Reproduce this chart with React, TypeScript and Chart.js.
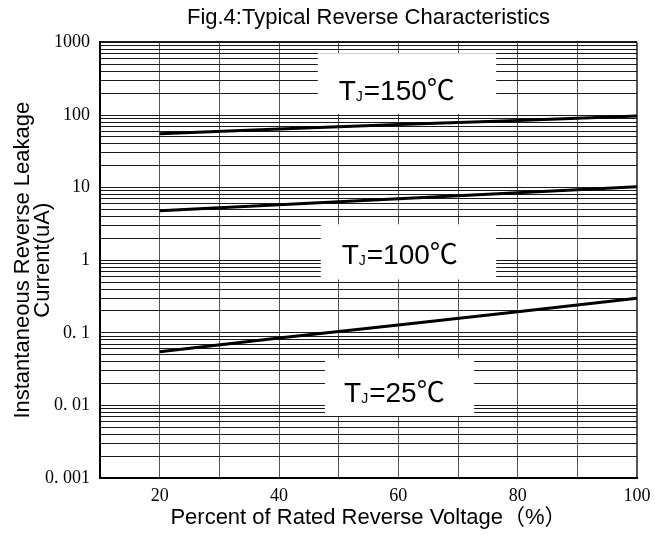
import React, { useEffect, useRef } from 'react';
import { Chart, registerables } from 'chart.js';

Chart.register(...registerables);

// ---- data ----
const voltagePct = [20, 40, 60, 80, 100];
const leakage150 = [55, 64, 74, 84, 97];
const leakage100 = [4.8, 5.8, 7.0, 8.5, 10.3];
const leakage25 = [0.055, 0.085, 0.128, 0.195, 0.3];
const tempLabels = ['150', '100', '25'];
const xTickLabels = ['20', '40', '60', '80', '100'];
const yDecades = [0.001, 0.01, 0.1, 1, 10, 100, 1000];
const yDecadeLabels = ['0. 001', '0. 01', '0. 1', '1', '10', '100', '1000'];
const yMinorSteps = [2, 3, 4, 5, 6, 7, 8, 9];
const titleText = 'Fig.4:Typical Reverse Characteristics';
const xTitle = 'Percent of Rated Reverse Voltage（%）';
const yTitle = ['Instantaneous Reverse Leakage', 'Current(uA)'];

const SANS = '"Liberation Sans", Arial, "Noto Sans CJK SC", sans-serif';
const SERIF = '"Liberation Serif", "Times New Roman", serif';

// white label boxes, placed in data coordinates
const boxes = [
  { x1: 46.5, x2: 76.4, y1: 710, y2: 104, tx: 50, ty: 161, label: tempLabels[0] },
  { x1: 47.0, x2: 76.4, y1: 3.12, y2: 0.543, tx: 50.5, ty: 0.895, label: tempLabels[1] },
  { x1: 47.7, x2: 72.7, y1: 0.045, y2: 0.00716, tx: 50.9, ty: 0.01107, label: tempLabels[2] },
];

const tempBoxPlugin = {
  id: 'tempBoxes',
  beforeDatasetsDraw(chart: any) {
    const { ctx, scales } = chart;
    const xs = scales.x;
    const ys = scales.y;
    ctx.save();
    for (const b of boxes) {
      const l = xs.getPixelForValue(b.x1);
      const r = xs.getPixelForValue(b.x2);
      const t = ys.getPixelForValue(b.y1);
      const btm = ys.getPixelForValue(b.y2);
      ctx.fillStyle = '#fff';
      ctx.fillRect(l, t, r - l, btm - t);
      let px = xs.getPixelForValue(b.tx);
      const base = ys.getPixelForValue(b.ty);
      ctx.fillStyle = '#000';
      ctx.textBaseline = 'alphabetic';
      ctx.textAlign = 'left';
      ctx.font = `28px ${SANS}`;
      ctx.fillText('T', px, base);
      px += ctx.measureText('T').width;
      ctx.font = `14px ${SANS}`;
      ctx.fillText('J', px, base + 1);
      px += ctx.measureText('J').width + 1;
      ctx.font = `28px ${SANS}`;
      ctx.fillText(`=${b.label}℃`, px, base);
    }
    ctx.restore();
  },
};

function decadeLabel(v: number): string {
  for (let i = 0; i < yDecades.length; i++) {
    if (Math.abs(v - yDecades[i]) / yDecades[i] < 1e-6) return yDecadeLabels[i];
  }
  return '';
}

export default function App() {
  const ref = useRef<HTMLCanvasElement | null>(null);

  useEffect(() => {
    document.body.style.margin = '0';
    const canvas = ref.current;
    if (!canvas) return;
    const mk = (vals: number[]) => voltagePct.map((x, i) => ({ x, y: vals[i] }));
    const lineStyle = {
      borderColor: '#000',
      backgroundColor: '#000',
      borderWidth: 3,
      pointRadius: 0,
      fill: false,
      tension: 0,
    };
    const chart = new Chart(canvas, {
      type: 'line',
      data: {
        datasets: [
          { label: 'TJ=150℃', data: mk(leakage150), ...lineStyle },
          { label: 'TJ=100℃', data: mk(leakage100), ...lineStyle },
          { label: 'TJ=25℃', data: mk(leakage25), ...lineStyle },
        ],
      },
      plugins: [tempBoxPlugin],
      options: {
        animation: false,
        responsive: false,
        layout: { padding: { left: 0, right: 33, top: 0, bottom: 0 } },
        plugins: {
          legend: { display: false },
          tooltip: { enabled: false },
          title: {
            display: true,
            text: titleText,
            fullSize: false,
            color: '#000',
            font: { family: SANS, size: 22, weight: 'normal' },
            padding: { top: 5, bottom: 11 },
          },
        },
        scales: {
          x: {
            type: 'linear',
            min: 10,
            max: 100,
            afterFit: (s: any) => { s.height = 57; },
            border: { color: '#000', width: 2 },
            grid: {
              color: '#555',
              drawTicks: false,
              lineWidth: (c: any) => (c.tick && c.tick.value === 100 ? 2 : 1),
            },
            ticks: {
              stepSize: 10,
              autoSkip: false,
              maxRotation: 0,
              padding: 7,
              color: '#000',
              font: { family: SERIF, size: 18 },
              callback: (v: any) => (xTickLabels.includes(String(v)) ? String(v) : ''),
            },
            title: {
              display: true,
              text: xTitle,
              color: '#000',
              font: { family: SANS, size: 22 },
              padding: { top: 0, bottom: 4 },
            },
          },
          y: {
            type: 'logarithmic',
            min: 0.001,
            max: 1000,
            afterFit: (s: any) => { s.width = 100; },
            afterBuildTicks: (s: any) => {
              const vals: number[] = [];
              yDecades.forEach((d, i) => {
                vals.push(d);
                if (i < yDecades.length - 1) yMinorSteps.forEach((m) => vals.push(d * m));
              });
              s.ticks = vals.map((v) => ({ value: v, major: false }));
            },
            border: { color: '#000', width: 2 },
            grid: {
              color: '#1a1a1a',
              drawTicks: false,
              lineWidth: (c: any) => (c.tick && Math.abs(c.tick.value - 1000) < 1e-6 ? 2 : 1),
            },
            ticks: {
              autoSkip: false,
              padding: 10,
              color: '#000',
              font: { family: SERIF, size: 18 },
              callback: (v: any) => decadeLabel(Number(v)),
            },
            title: {
              display: true,
              text: yTitle,
              color: '#000',
              font: { family: SANS, size: 22, lineHeight: 0.95 },
              padding: { top: 12, bottom: 0 },
            },
          },
        },
      },
    } as any);
    return () => chart.destroy();
  }, []);

  return (
    <div style={{ width: 670, height: 535 }}>
      <canvas ref={ref} width={670} height={535} style={{ display: 'block' }} />
    </div>
  );
}
